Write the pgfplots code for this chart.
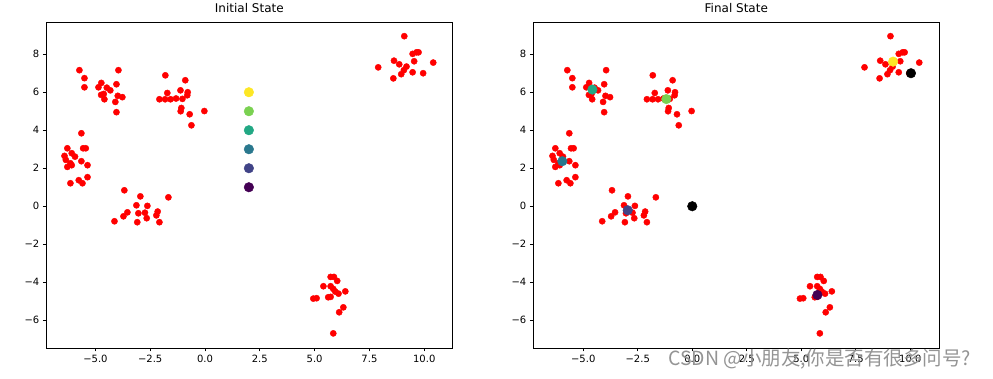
\documentclass[border=0pt]{standalone}
\usepackage{fontspec}
\setmainfont{DejaVu Sans}
\newfontfamily\cjk{Noto Sans CJK SC}
\usepackage{pgfplots}
\pgfplotsset{compat=1.18}
\usepackage{pgfplotstable}

\definecolor{v1}{HTML}{440154}
\definecolor{v2}{HTML}{414487}
\definecolor{v3}{HTML}{2A788E}
\definecolor{v4}{HTML}{22A884}
\definecolor{v5}{HTML}{7AD151}
\definecolor{v6}{HTML}{FDE725}

\pgfplotstableread{
x y
-5.73 7.16
-5.50 6.74
-5.50 6.26
-4.86 6.26
-4.73 6.49
-4.48 6.24
-4.32 6.10
-4.74 5.86
-4.62 5.91
-4.59 5.63
-4.04 6.42
-3.95 7.16
-3.98 5.81
-3.77 5.74
-4.09 5.49
-4.04 4.95
-1.81 6.89
-0.90 6.63
-1.72 5.96
-2.08 5.63
-1.82 5.63
-1.57 5.63
-1.32 5.67
-1.12 6.10
-1.03 5.65
-0.79 6.00
-0.81 5.84
-1.08 5.17
-1.11 5.00
-0.70 4.84
-0.62 4.26
-0.03 5.01
-5.64 3.84
-6.28 3.05
-5.56 3.05
-5.44 3.05
-6.41 2.65
-6.08 2.79
-5.93 2.61
-6.35 2.44
-6.14 2.26
-6.08 2.16
-6.28 2.07
-5.64 2.37
-5.36 2.16
-5.76 1.37
-5.59 1.21
-6.14 1.21
-5.36 1.53
-3.68 0.84
-2.95 0.52
-1.67 0.47
-3.13 0.05
-2.63 0.02
-4.13 -0.79
-3.72 -0.53
-3.54 -0.32
-3.04 -0.37
-2.74 -0.34
-2.66 -0.63
-2.22 -0.48
-2.16 -0.28
-2.08 -0.84
-3.09 -0.84
5.73 -3.72
5.88 -3.72
6.03 -3.93
5.40 -4.21
5.73 -4.21
5.85 -4.35
5.94 -4.49
6.09 -4.60
6.40 -4.48
4.94 -4.86
5.09 -4.84
5.62 -4.79
5.73 -4.77
6.31 -5.32
6.12 -5.58
5.85 -6.69
9.09 8.95
7.90 7.31
8.62 7.66
8.86 7.47
8.59 6.73
8.95 6.95
9.07 7.16
9.19 7.35
9.47 8.02
9.65 8.10
9.74 8.10
9.54 7.63
9.47 7.05
9.95 7.00
10.41 7.56
}\pts

\pgfplotsset{
  myax/.style={
    scale only axis, width=406pt, height=325.7pt,
    ymin=-7.46, ymax=9.68,
    axis line style={line width=0.8pt, black},
    tick align=outside, tick pos=left, major tick length=3.5pt,
    every tick/.style={black, line width=0.8pt},
    xtick={-5,-2.5,0,2.5,5,7.5,10},
    xticklabels={−5.0,−2.5,0.0,2.5,5.0,7.5,10.0},
    ytick={-6,-4,-2,0,2,4,6,8},
    yticklabels={−6,−4,−2,0,2,4,6,8},
    tick label style={font=\fontsize{10}{12}\selectfont},
    title style={font=\fontsize{12}{14}\selectfont},
  },
  redpts/.style={only marks, mark=*, mark size=3.1pt, mark options={draw=red, fill=red}},
  cen/.style={only marks, mark=*, mark size=4.8pt, mark options={draw=#1, fill=#1}},
}

\begin{document}
\begin{tikzpicture}
\useasboundingbox (0,0) rectangle (993pt,379pt);
\begin{axis}[myax, at={(46.3pt,31pt)}, anchor=south west,
  xmin=-7.24, xmax=11.28, title={Initial State}]
  \addplot[redpts] table[x=x,y=y] {\pts};
  \addplot[cen=v1] coordinates {(2,1)};
  \addplot[cen=v2] coordinates {(2,2)};
  \addplot[cen=v3] coordinates {(2,3)};
  \addplot[cen=v4] coordinates {(2,4)};
  \addplot[cen=v5] coordinates {(2,5)};
  \addplot[cen=v6] coordinates {(2,6)};
\end{axis}
\begin{axis}[myax, at={(533.3pt,31pt)}, anchor=south west,
  xmin=-7.29, xmax=11.33, title={Final State}]
  \addplot[redpts] table[x=x,y=y] {\pts};
  \addplot[cen=v1] coordinates {(5.74,-4.67)};
  \addplot[cen=v2] coordinates {(-2.96,-0.21)};
  \addplot[cen=v3] coordinates {(-5.96,2.37)};
  \addplot[cen=v4] coordinates {(-4.58,6.14)};
  \addplot[cen=v5] coordinates {(-1.19,5.64)};
  \addplot[cen=v6] coordinates {(9.21,7.61)};
  \addplot[cen=black] coordinates {(0,0) (10.03,7.00)};
\end{axis}
\node[anchor=west, inner sep=0pt, text=black!42, font=\cjk\fontsize{19.5}{22}\selectfont] at (668pt,20pt) {CSDN @小朋友,你是否有很多问号?};
\end{tikzpicture}
\end{document}
